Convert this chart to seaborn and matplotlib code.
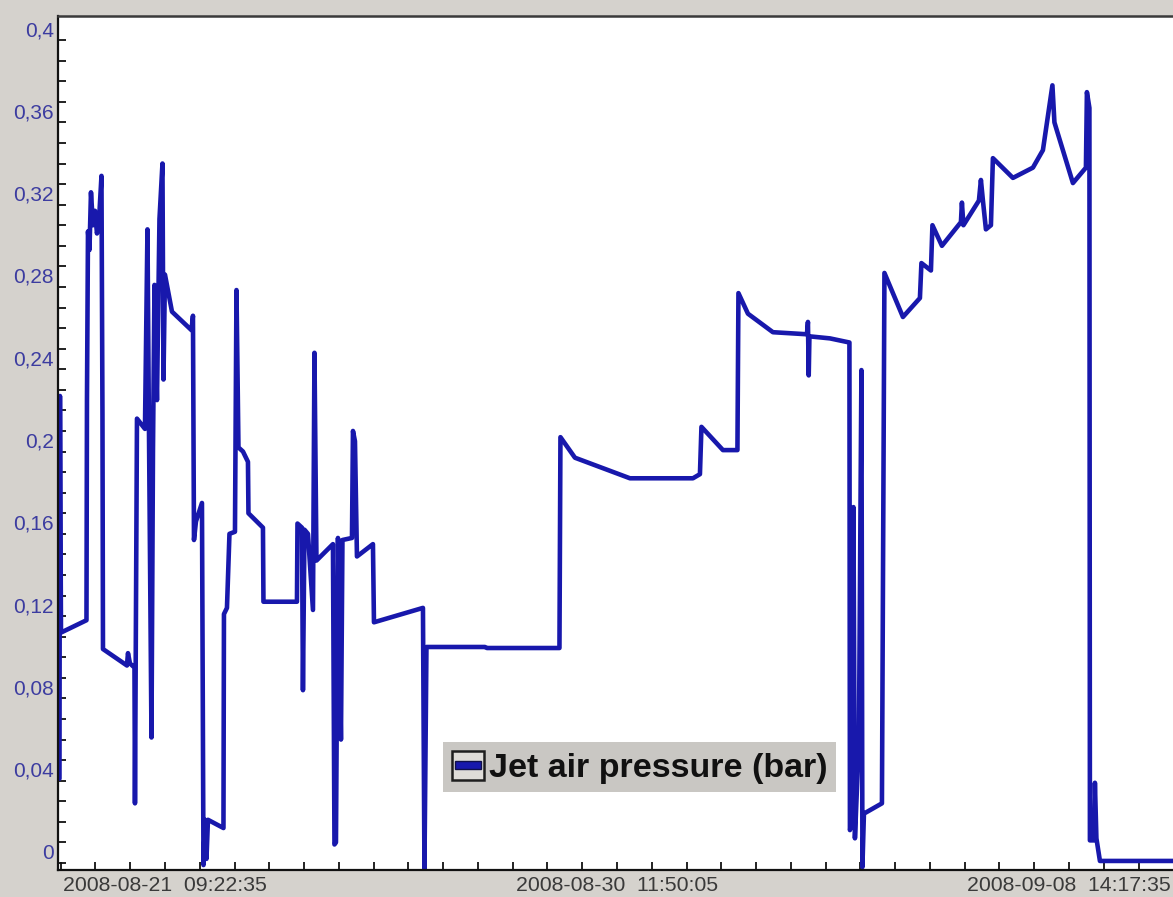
import numpy as np
import pandas as pd
import matplotlib
matplotlib.use("Agg")
import matplotlib.pyplot as plt
import matplotlib.dates as mdates
from matplotlib.ticker import FixedLocator, FixedFormatter
from matplotlib.lines import Line2D
from matplotlib.patches import Rectangle
from matplotlib.legend_handler import HandlerBase
import seaborn as sns

# --- data -------------------------------------------------------------------
# Reference instant for the elapsed-time column
ANCHOR = "2008-08-21 09:22:35"

# Hours elapsed since ANCHOR for each logged sample
elapsed_hours = [
    -50.99, -50.75, -50.26, -37.94, -37.70, -37.21, -36.49, -35.76, -34.80, -33.83,
    -32.86, -31.90, -30.69, -30.21, -29.96, -18.37, -17.88, -16.92, -14.74, -14.50,
    -14.02, -13.53, -9.67, -8.46, -7.73, -6.52, -5.80, -5.07, -3.87, -2.66,
    -1.21, -0.72, 0.00, 3.38, 12.81, 13.53, 14.02, 14.98, 17.88, 18.61,
    19.33, 20.06, 20.78, 28.27, 28.51, 29.96, 31.17, 33.83, 34.56, 35.52,
    37.70, 40.11, 40.35, 47.36, 47.60, 63.79, 64.04, 66.21, 66.69, 67.42,
    69.11, 71.53, 72.25, 73.22, 81.19, 81.92, 82.64, 83.61, 85.06, 85.78,
    90.38, 90.86, 91.83, 92.79, 100.52, 101.01, 124.69, 125.41, 126.38, 154.65,
    155.62, 190.66, 191.14, 198.15, 224.73, 255.18, 258.56, 259.29, 269.68, 276.68,
    277.17, 281.76, 293.84, 310.27, 310.76, 311.14, 311.48, 321.39, 330.81, 331.05,
    332.26, 332.75, 333.47, 335.40, 336.61, 337.09, 337.82, 346.52, 347.73, 356.67,
    364.88, 365.61, 370.20, 370.93, 375.52, 384.70, 385.18, 385.91, 393.40, 394.36,
    395.33, 396.78, 399.20, 400.16, 409.83, 419.50, 424.33, 428.92, 429.89, 431.09,
    438.83, 445.11, 445.59, 446.80, 447.04, 448.98, 449.46, 450.18, 451.88, 488.00,
]

# Jet air pressure in bar
pressure_bar = [
    0.041, 0.227, 0.112, 0.118, 0.225, 0.307, 0.298, 0.326, 0.310, 0.317,
    0.306, 0.312, 0.334, 0.218, 0.104, 0.096, 0.102, 0.097, 0.095, 0.029,
    0.122, 0.216, 0.211, 0.308, 0.210, 0.061, 0.200, 0.281, 0.225, 0.313,
    0.340, 0.235, 0.286, 0.268, 0.259, 0.266, 0.157, 0.166, 0.175, -0.001,
    0.021, 0.002, 0.021, 0.017, 0.121, 0.124, 0.160, 0.161, 0.2785, 0.202,
    0.200, 0.195, 0.170, 0.163, 0.127, 0.127, 0.165, 0.163, 0.084, 0.162,
    0.160, 0.123, 0.248, 0.147, 0.155, 0.009, 0.010, 0.158, 0.060, 0.157,
    0.158, 0.210, 0.205, 0.149, 0.155, 0.117, 0.124, -0.003, 0.105, 0.105,
    0.1045, 0.1045, 0.207, 0.197, 0.187, 0.187, 0.189, 0.212, 0.2007, 0.2007,
    0.277, 0.267, 0.258, 0.257, 0.263, 0.237, 0.256, 0.255, 0.253, 0.016,
    0.020, 0.173, 0.012, 0.060, 0.2396, -0.002, 0.024, 0.029, 0.2868, 0.2654,
    0.2746, 0.2916, 0.288, 0.310, 0.300, 0.3115, 0.321, 0.310, 0.322, 0.332,
    0.322, 0.308, 0.310, 0.3426, 0.333, 0.338, 0.3465, 0.378, 0.360, 0.356,
    0.3305, 0.338, 0.3747, 0.367, 0.011, 0.011, 0.039, 0.012, 0.001, 0.001,
]

# Labelled instants on the time axis
label_times = ["2008-08-21 09:22:35", "2008-08-30 11:50:05", "2008-09-08 14:17:35"]
minor_steps_between_labels = 13

y_ticks = [0.0, 0.04, 0.08, 0.12, 0.16, 0.2, 0.24, 0.28, 0.32, 0.36, 0.4]
y_tick_labels = ["0", "0,04", "0,08", "0,12", "0,16", "0,2", "0,24", "0,28",
                 "0,32", "0,36", "0,4"]

series_name = "Jet air pressure (bar)"

view_hours = (-51.7, 487.2)
y_range = (-0.0034, 0.4117)

# --- styling ----------------------------------------------------------------
LINE_BLUE = "#1818ac"
PANEL_GRAY = "#d5d2cd"
LEGEND_GRAY = "#c9c7c3"

sns.set_theme(style="white")
plt.rcParams["font.family"] = ["Liberation Sans", "DejaVu Sans"]

fig = plt.figure(figsize=(11.73, 8.97), dpi=100, facecolor=PANEL_GRAY)
ax = fig.add_axes([58 / 1173, 27 / 897, 1115 / 1173, 854 / 897])
ax.set_facecolor("white")

anchor = pd.Timestamp(ANCHOR)
df = pd.DataFrame({
    "time": [(anchor + pd.Timedelta(hours=h)).to_pydatetime() for h in elapsed_hours],
    "pressure": pressure_bar,
})

sns.lineplot(data=df, x="time", y="pressure", estimator=None, sort=False,
             color=LINE_BLUE, linewidth=3.3, ax=ax, legend=False)

# --- axes limits and ticks --------------------------------------------------
x0 = (anchor + pd.Timedelta(hours=view_hours[0])).to_pydatetime()
x1 = (anchor + pd.Timedelta(hours=view_hours[1])).to_pydatetime()
ax.set_xlim(x0, x1)
ax.set_ylim(*y_range)

label_num = mdates.date2num([pd.Timestamp(t).to_pydatetime() for t in label_times])
step = (label_num[1] - label_num[0]) / minor_steps_between_labels
lo, hi = mdates.date2num(x0), mdates.date2num(x1)
k0 = int(np.ceil((lo - label_num[0]) / step))
k1 = int(np.floor((hi - label_num[0]) / step))
minor_pos = label_num[0] + step * np.arange(k0, k1 + 1)

ax.xaxis.set_major_locator(FixedLocator(label_num))
ax.xaxis.set_major_formatter(FixedFormatter(
    [pd.Timestamp(t).strftime("%Y-%m-%d  %H:%M:%S") for t in label_times]))
ax.xaxis.set_minor_locator(FixedLocator(minor_pos))

ax.yaxis.set_major_locator(FixedLocator(y_ticks))
ax.yaxis.set_major_formatter(FixedFormatter(y_tick_labels))
ax.yaxis.set_minor_locator(FixedLocator(np.arange(0, 0.41, 0.01)))

ax.tick_params(axis="both", which="both", direction="in", length=5.5, width=1.3,
               color="#111111", bottom=True, left=True, top=False, right=False)
ax.tick_params(axis="x", which="major", labelsize=15.3, labelcolor="#3a3a3a", pad=4)
ax.tick_params(axis="y", which="major", labelsize=15, labelcolor="#3c3ca0", pad=3)
for lbl in ax.get_yticklabels():
    lbl.set_verticalalignment("bottom")

ax.set_xlabel("")
ax.set_ylabel("")

for side in ("left", "bottom"):
    ax.spines[side].set_color("#111111")
    ax.spines[side].set_linewidth(1.6)
ax.spines["top"].set_color("#3a3a3a")
ax.spines["top"].set_linewidth(1.8)
ax.spines["right"].set_visible(False)


# --- legend -----------------------------------------------------------------
class SeriesSwatch(HandlerBase):
    """Square swatch with a horizontal bar in the series colour."""

    def create_artists(self, legend, orig_handle, xdescent, ydescent,
                       width, height, fontsize, trans):
        x, y = -xdescent, -ydescent
        box = Rectangle((x, y), width, height, facecolor="#dedcd8",
                        edgecolor="#1e1e1e", linewidth=1.8, transform=trans)
        bar_h = height * 0.27
        bar = Rectangle((x + width * 0.1, y + (height - bar_h) / 2), width * 0.8, bar_h,
                        facecolor=orig_handle.get_color(), edgecolor="#10104a",
                        linewidth=1.0, transform=trans)
        return [box, bar]


swatch = Line2D([0, 1], [0, 0], color=LINE_BLUE)
leg = ax.legend([swatch], [series_name],
                handler_map={Line2D: SeriesSwatch()},
                loc="upper left", bbox_to_anchor=(443 / 1173, 1 - 742 / 897),
                bbox_transform=fig.transFigure, borderaxespad=0,
                frameon=True, fancybox=False, framealpha=1,
                facecolor=LEGEND_GRAY, edgecolor=LEGEND_GRAY,
                handlelength=0.95, handleheight=0.95, handletextpad=0.15,
                borderpad=0.25,
                prop=dict(family="Liberation Sans", size=24.5, weight="bold"))
leg.get_frame().set_linewidth(0)
for t in leg.get_texts():
    t.set_color("#111111")

fig.savefig("out.png", dpi=100, facecolor=PANEL_GRAY)
